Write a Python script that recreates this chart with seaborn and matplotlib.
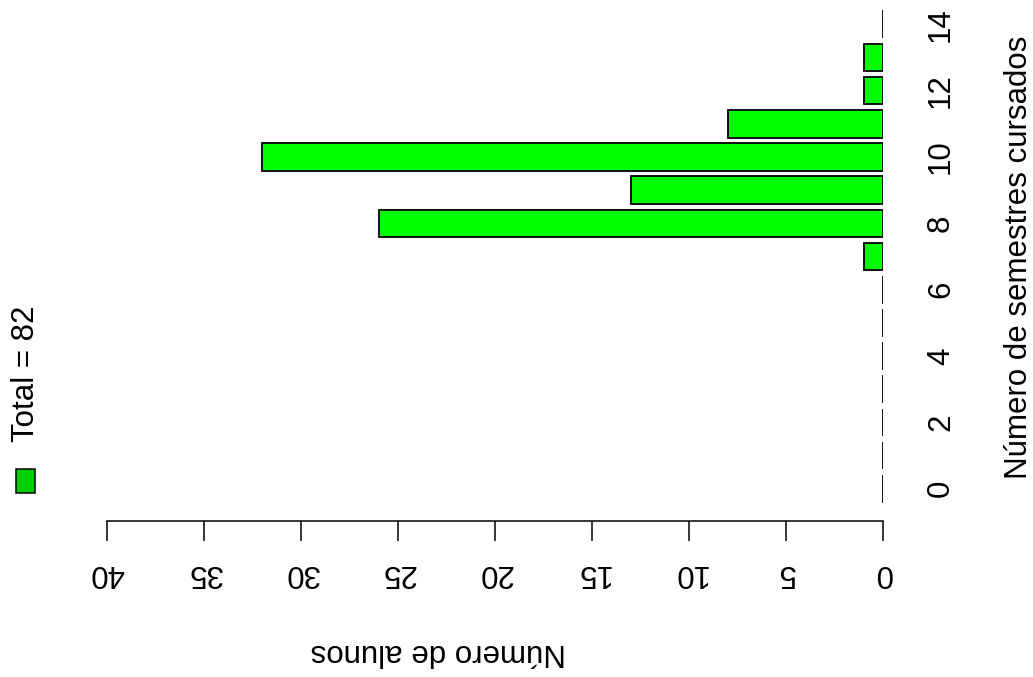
import matplotlib
matplotlib.use("Agg")
import matplotlib.pyplot as plt
import matplotlib.patches as mpatches
import seaborn as sns
import pandas as pd

# Data
semestres = list(range(0, 15))
alunos = [0, 0, 0, 0, 0, 0, 0, 1, 26, 13, 32, 8, 1, 1, 0]
tick_semestres = [0, 2, 4, 6, 8, 10, 12, 14]
tick_alunos = [0, 5, 10, 15, 20, 25, 30, 35, 40]
titulo_x = "Número de alunos"
titulo_y = "Número de semestres cursados"
legenda = f"Total = {sum(alunos)}"

sns.set_theme(style="white")
plt.rcParams['font.family'] = ['Liberation Sans', 'DejaVu Sans']
plt.rcParams['text.color'] = 'black'
plt.rcParams['xtick.color'] = 'black'
plt.rcParams['ytick.color'] = 'black'
plt.rcParams['axes.labelcolor'] = 'black'
FS = 22.5

W, H = 1033, 677
fig = plt.figure(figsize=(W / 100, H / 100), dpi=100)
fig.patch.set_facecolor("white")

L, R, T, B = 107, 883, 5, 510
ax = fig.add_axes([L / W, 1 - B / H, (R - L) / W, (B - T) / H])
ax.set_facecolor("white")

df = pd.DataFrame({"semestre": semestres, "alunos": alunos})
sns.barplot(data=df, x="alunos", y="semestre", orient="h", order=semestres,
            color="#00FF00", saturation=1, width=0.833,
            edgecolor="black", linewidth=1.3, ax=ax, errorbar=None)

ax.set_xlim(40, 0)
ax.set_ylim(-0.64, 14.58)

for s in ["top", "left", "right"]:
    ax.spines[s].set_visible(False)
ax.spines["bottom"].set_position(("outward", 8))
ax.spines["bottom"].set_bounds(0, 40)
ax.spines["bottom"].set_color("black")
ax.spines["bottom"].set_linewidth(1.1)

ax.set_xticks(tick_alunos)
ax.set_xticklabels([str(v) for v in tick_alunos], rotation=180, fontsize=FS,
                   color="black")
ax.tick_params(axis="x", direction="out", length=14.4, width=1.1, color="black",
               pad=12, labelsize=FS, bottom=True, labelcolor="black")

ax.yaxis.tick_right()
ax.set_yticks(tick_semestres)
ax.set_yticklabels([str(v) for v in tick_semestres], rotation=90, fontsize=FS,
                   va="center", color="black")
ax.tick_params(axis="y", length=0, pad=31, labelsize=FS, right=True, left=False,
               labelcolor="black")

ax.set_xlabel("")
ax.set_ylabel("")
ax.grid(False)

# Axis titles
fig.text(438 / W, 1 - 652 / H, titulo_x, rotation=180, ha="center", va="center",
         fontsize=FS, color="black")
fig.text(1019 / W, 1 - 257 / H, titulo_y, rotation=90, ha="center", va="center",
         fontsize=FS, color="black")

# Legend
fig.patches.append(mpatches.Rectangle((16 / W, 1 - 493 / H), 19 / W, 24 / H,
                                      transform=fig.transFigure, facecolor="#00CD00",
                                      edgecolor="black", linewidth=1.1))
fig.text(26 / W, 1 - 442 / H, legenda, rotation=90, ha="center", va="bottom",
         fontsize=FS, color="black")

fig.savefig("out.png", dpi=100)
